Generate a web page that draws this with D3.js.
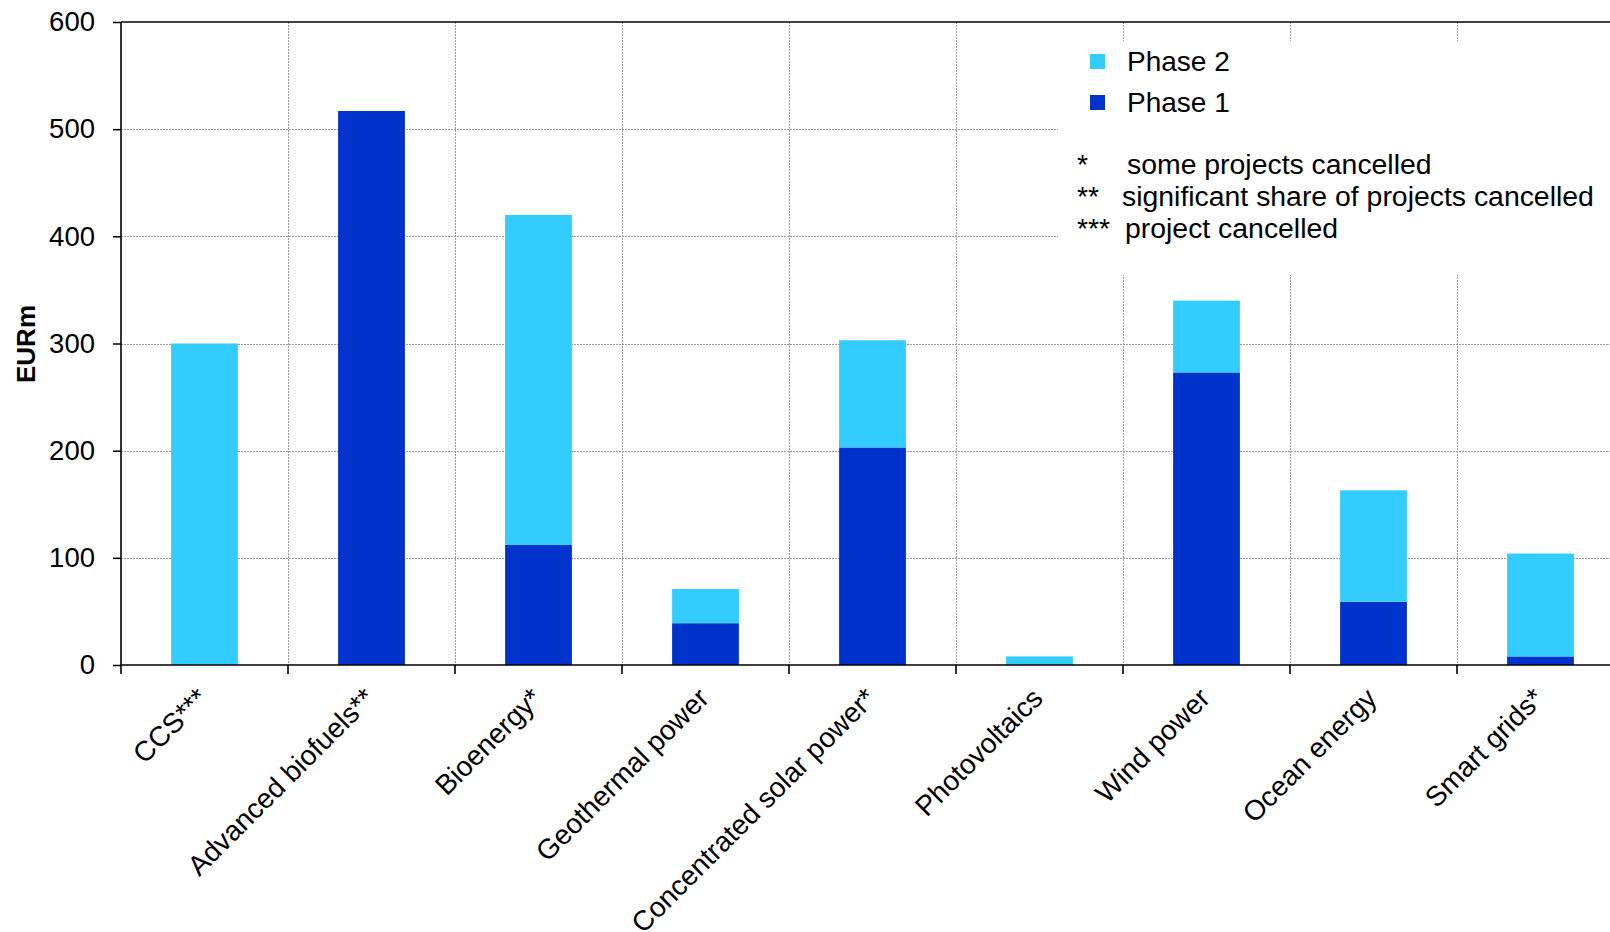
<!DOCTYPE html>
<html>
<head>
<meta charset="utf-8">
<script src="https://cdn.jsdelivr.net/npm/d3@7"></script>
<style>
  html, body { margin: 0; padding: 0; background: #fff; }
  svg { display: block; font-family: "Liberation Sans", Arial, sans-serif; }
</style>
</head>
<body>
<svg id="chart" width="1610" height="932"></svg>
<script>
// Funding per technology area, EUR million, split by phase
const categories = [
  "CCS***", "Advanced biofuels**", "Bioenergy*", "Geothermal power",
  "Concentrated solar power*", "Photovoltaics", "Wind power",
  "Ocean energy", "Smart grids*"
];
const phase1 = [0, 517, 112, 39, 203, 0, 273, 59, 8];
const phase2 = [300, 0, 308, 32, 100, 8, 67, 104, 96];
const yTicks = [0, 100, 200, 300, 400, 500, 600];
const seriesKeys = ["phase1", "phase2"];
const seriesNames = { phase1: "Phase 1", phase2: "Phase 2" };
const footnotes = [
  ["*", "some projects cancelled"],
  ["**", "significant share of projects cancelled"],
  ["***", "project cancelled"]
];

const colors = { phase1: "#0033CC", phase2: "#33CCFF" };

(function draw() {
  const svg = d3.select("#chart");
  const plotLeft = 121, plotTop = 22, plotBottom = 665;
  const slot = 167;
  const plotRight = plotLeft + categories.length * slot;

  const rows = categories.map((c, i) => ({ cat: c, phase1: phase1[i], phase2: phase2[i] }));

  const x = d3.scaleBand()
    .domain(categories)
    .range([plotLeft, plotRight])
    .paddingInner(0.6)
    .paddingOuter(0.3);

  const y = d3.scaleLinear().domain([0, 600]).range([plotBottom, plotTop]);

  const bounds = d3.range(categories.length + 1).map(i => plotLeft + i * x.step());

  // Grid
  const grid = svg.append("g").attr("stroke", "#9a9a9a").attr("stroke-width", 1)
    .attr("stroke-dasharray", "2,1");
  grid.selectAll("line.h")
    .data(yTicks.filter(t => t > 0 && t < 600))
    .join("line")
    .attr("x1", plotLeft).attr("x2", plotRight)
    .attr("y1", d => Math.round(y(d)) + 0.5).attr("y2", d => Math.round(y(d)) + 0.5);
  grid.selectAll("line.v")
    .data(bounds.slice(1))
    .join("line")
    .attr("x1", d => Math.round(d) + 0.5).attr("x2", d => Math.round(d) + 0.5)
    .attr("y1", plotTop).attr("y2", plotBottom);

  // Stacked bars
  const stacked = d3.stack().keys(seriesKeys)(rows);
  svg.append("g")
    .selectAll("g")
    .data(stacked)
    .join("g")
    .attr("fill", d => colors[d.key])
    .selectAll("rect")
    .data(d => d.filter(s => s[1] - s[0] > 0))
    .join("rect")
    .attr("x", d => x(d.data.cat))
    .attr("width", x.bandwidth())
    .attr("y", d => y(d[1]))
    .attr("height", d => y(d[0]) - y(d[1]));

  // Legend box (white panel over the grid)
  svg.append("rect")
    .attr("x", 1058).attr("y", 41).attr("width", 552).attr("height", 234)
    .attr("fill", "#fff");

  const legendOrder = ["phase2", "phase1"];
  const leg = svg.append("g");
  legendOrder.forEach((k, i) => {
    const by = 71 + i * 41;
    leg.append("rect")
      .attr("x", 1090).attr("y", by - 17).attr("width", 15).attr("height", 15)
      .attr("fill", colors[k]);
    leg.append("text")
      .attr("x", 1127).attr("y", by)
      .attr("font-size", 28).attr("fill", "#000")
      .text(seriesNames[k]);
  });
  const noteX = [1127, 1122, 1125];
  const noteY = [174, 206, 238];
  footnotes.forEach((f, i) => {
    leg.append("text")
      .attr("x", 1077).attr("y", noteY[i])
      .attr("font-size", 28.4).attr("fill", "#000")
      .text(f[0]);
    leg.append("text")
      .attr("x", noteX[i]).attr("y", noteY[i])
      .attr("font-size", 28.4).attr("fill", "#000")
      .text(f[1]);
  });

  // Axes
  const yAxis = svg.append("g")
    .attr("transform", `translate(${plotLeft},0)`)
    .call(d3.axisLeft(y).tickValues(yTicks).tickSize(8).tickPadding(18).tickFormat(d3.format("d")));
  yAxis.select(".domain").remove();
  yAxis.selectAll(".tick line").attr("stroke", "#000").attr("stroke-width", 1.5);
  yAxis.selectAll(".tick text")
    .attr("font-size", 27.5).attr("fill", "#000")
    .attr("font-family", "'Liberation Sans', Arial, sans-serif");

  // Frame lines
  const frame = svg.append("g").attr("stroke", "#000").attr("stroke-width", 1.6);
  frame.append("line").attr("x1", plotLeft).attr("x2", plotLeft).attr("y1", plotTop).attr("y2", plotBottom);
  frame.append("line").attr("x1", plotLeft).attr("x2", plotRight).attr("y1", plotBottom).attr("y2", plotBottom);
  frame.append("line").attr("x1", plotLeft).attr("x2", plotRight).attr("y1", plotTop).attr("y2", plotTop);
  frame.selectAll("line.xt")
    .data(bounds)
    .join("line")
    .attr("x1", d => d).attr("x2", d => d)
    .attr("y1", plotBottom).attr("y2", plotBottom + 9);

  // Category labels
  svg.append("g")
    .selectAll("text")
    .data(categories)
    .join("text")
    .attr("transform", d => `translate(${x(d) + x.bandwidth() / 2 + 5},700) rotate(-45)`)
    .attr("text-anchor", "end")
    .attr("font-size", 28)
    .attr("fill", "#000")
    .text(d => d);

  // Y axis title
  svg.append("text")
    .attr("transform", "translate(35,344) rotate(-90)")
    .attr("text-anchor", "middle")
    .attr("font-size", 26)
    .attr("font-weight", "bold")
    .attr("fill", "#000")
    .text("EURm");
})();
</script>
</body>
</html>
